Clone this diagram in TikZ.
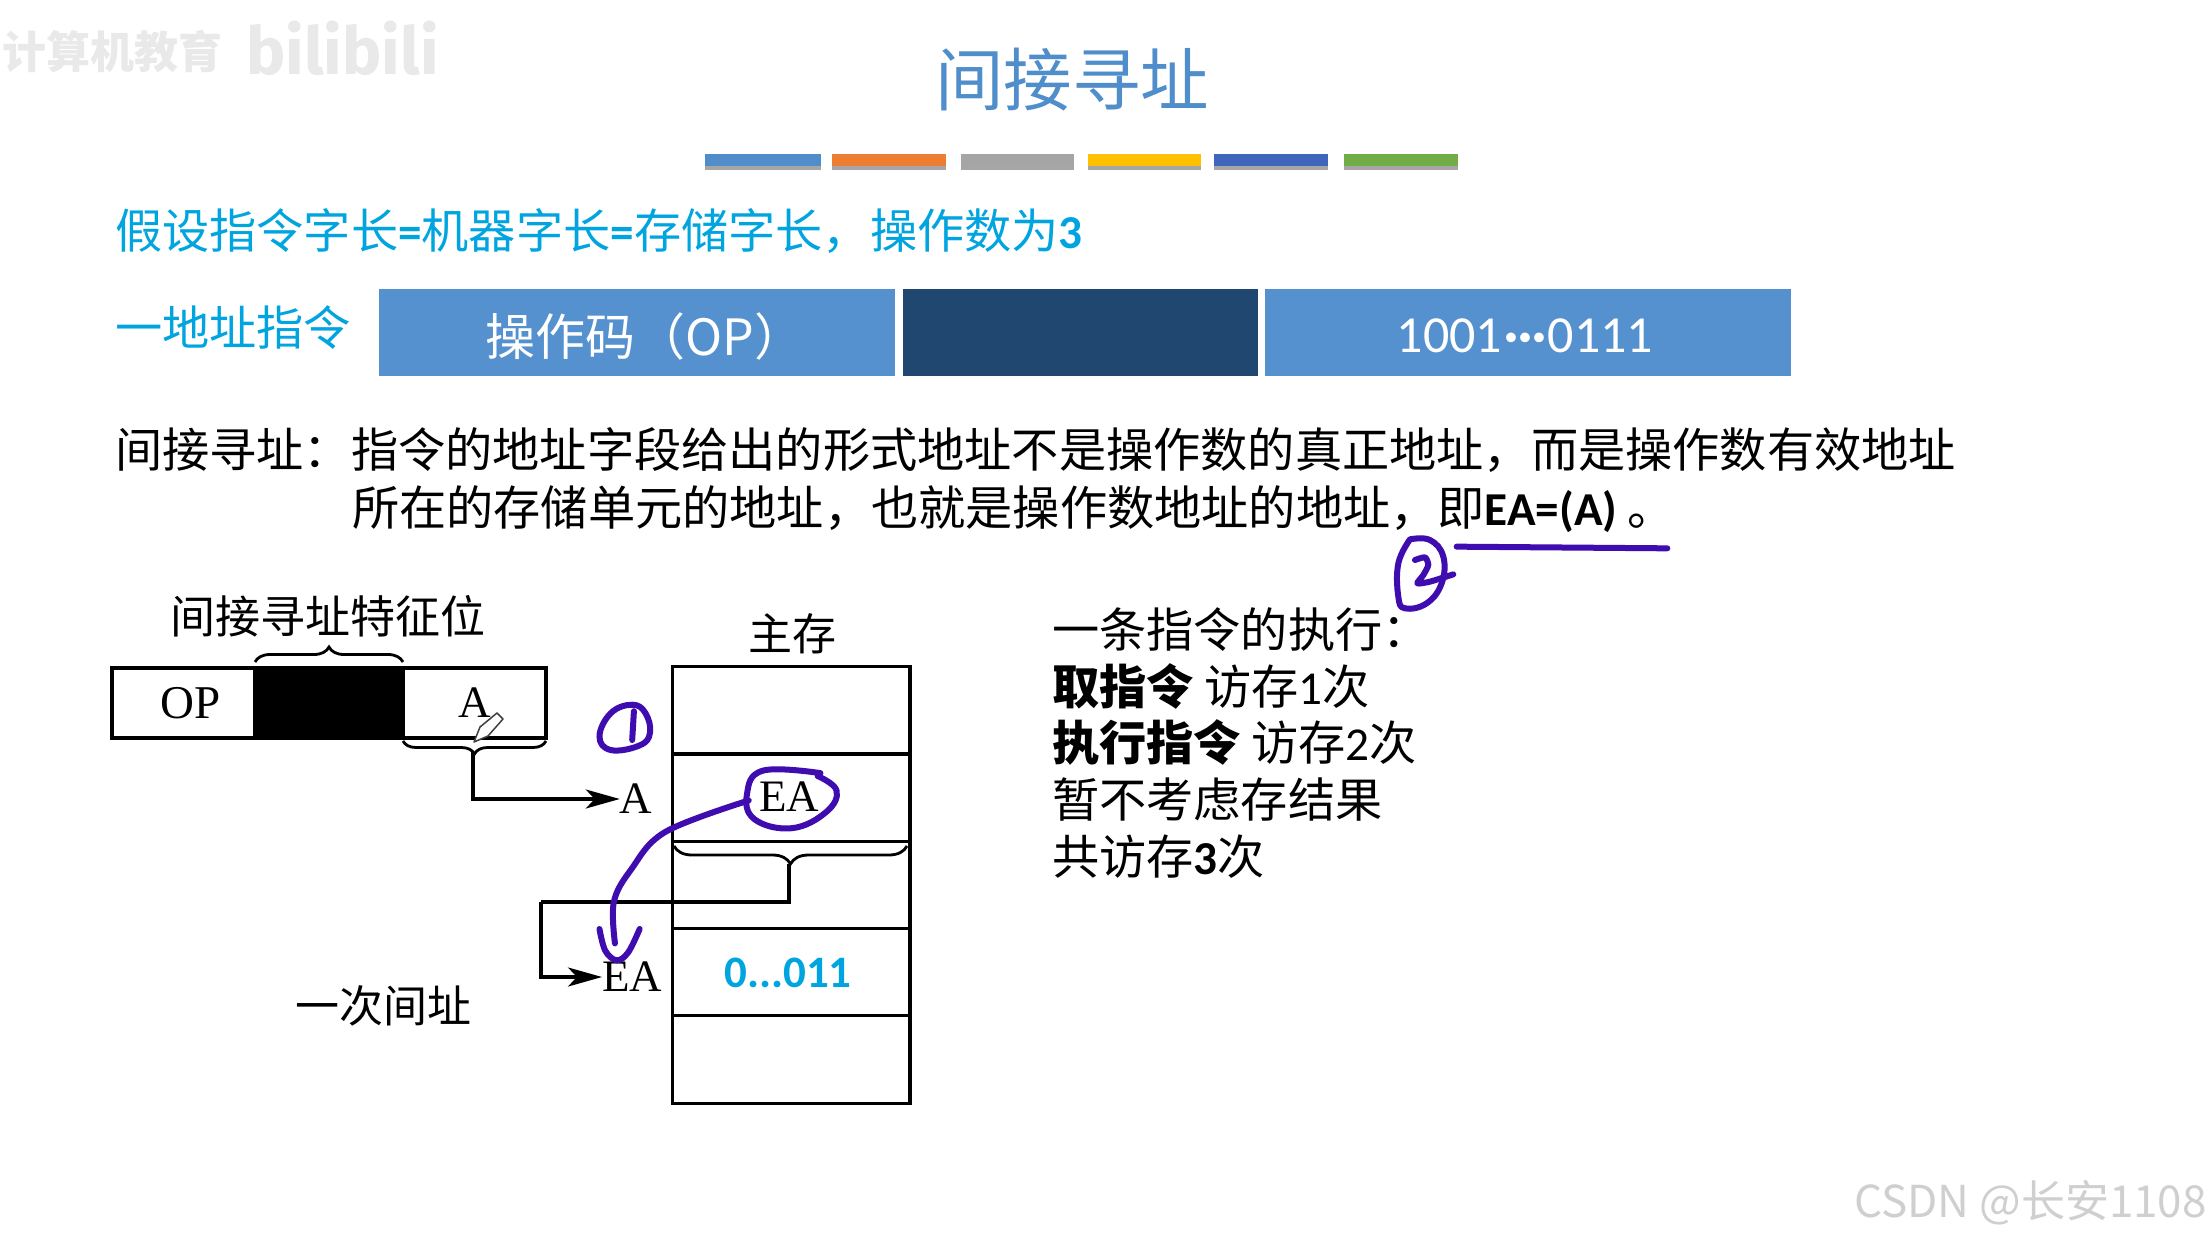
\documentclass[tikz,border=0pt]{standalone}
\usepackage{fontspec}
\setmainfont{Liberation Serif}
\newfontfamily\cjk{Noto Sans CJK SC}
\newfontfamily\lat{Carlito}
\newfontfamily\ser{Liberation Serif}
\newfontfamily\wmk{Fira Sans}
\newcommand\fsz[1]{\fontsize{#1}{#1}\selectfont}
\usetikzlibrary{arrows.meta,decorations.pathreplacing,positioning}
\definecolor{titleblue}{HTML}{4F8DCB}
\definecolor{sky}{HTML}{00A5DF}
\definecolor{opblue}{HTML}{5591CF}
\definecolor{navy}{HTML}{1F4770}
\definecolor{ink}{HTML}{3F0CB0}
\definecolor{wm}{HTML}{E9E9E9}
\definecolor{csdn}{HTML}{CFCFCF}
\tikzset{
  txt/.style={anchor=base west,inner sep=0pt,outer sep=0pt,font=\cjk\fsz{47.2}},
  sky text/.style={txt,text=sky},
  bar/.style={draw=none,minimum height=12pt,inner sep=0pt,outer sep=0pt,anchor=north west},
  field/.style={draw=none,anchor=north west,minimum height=87pt,inner sep=0pt,outer sep=0pt},
  field text/.style={inner sep=0pt,outer sep=0pt,text=white},
  cell/.style={draw=black,line width=3.2pt,anchor=north west,minimum width=237.5pt,minimum height=87.4pt,inner sep=0pt,outer sep=0pt},
  fmt/.style={draw=black,line width=3.2pt,anchor=north west,minimum height=70pt,inner sep=0pt,outer sep=0pt},
  serif label/.style={inner sep=0pt,outer sep=0pt,font=\ser\fsz{45}},
  cjk label/.style={inner sep=0pt,outer sep=0pt,font=\cjk\fsz{44}},
  link/.style={draw=black,line width=3.2pt},
  flow/.style={link,-{Stealth[length=34pt,width=19pt,inset=9pt]}},
  cbrace/.style={draw=black,line width=2.8pt,decorate,decoration={brace,amplitude=#1}},
  cbrace/.default=15pt,
  pen/.style={draw=ink,line width=6pt,line cap=round,line join=round},
}
\begin{document}
\begin{tikzpicture}[x=1pt,y=-1pt]
\useasboundingbox (0,0) rectangle (2209,1237);
\fill[white] (0,0) rectangle (2209,1237);

% faint watermarks
\node[inner sep=0pt,anchor=west,text=wm,font=\cjk\bfseries\fsz{44}] (wmA) at (2,52) {计算机教育};
\node[inner sep=0pt,anchor=west,text=wm,font=\wmk\bfseries\fsz{66}] (wmB) at (246,48) {bilibili};
\node[inner sep=0pt,anchor=east,text=csdn,font=\cjk\fsz{44}] (wmC) at (2207,1203) {CSDN @长安1108};

% title
\node[inner sep=0pt,text=titleblue,font=\cjk\fsz{68.5}] (title) at (1072,80) {间接寻址};

% coloured bars
\foreach \n/\xa/\w/\c in {a/705/116/4F8DCB,b/832/114/ED7D31,c/961/113/A5A5A5,d/1088/113/FFC000,e/1214/114/4066BC,f/1344/114/70AD47}{
  \fill[black!35] (\xa,158) rectangle ++(\w,12);
  \definecolor{barc}{HTML}{\c}
  \node[bar,fill=barc,minimum width=\w pt] (bar\n) at (\xa,154) {};
}

% assumption lines
\node[sky text] (assume) at (115,248) {假设指令字长{\lat\bfseries =}机器字长{\lat\bfseries =}存储字长，操作数为{\lat\bfseries 3}};
\node[sky text] (kind) at (115,345) {一地址指令};

% instruction fields
\node[field,fill=opblue,minimum width=516pt] (fop) at (379,289) {};
\node[field,fill=navy,minimum width=355pt] (fmode) at (903,289) {};
\node[field,fill=opblue,minimum width=526pt] (faddr) at (1265,289) {};
\node[field text,font=\cjk\fsz{50}] (foptext) at (645,336) {操作码（OP）};
\node[field text,font=\lat\fsz{52}] (faddrtext) at (1525,336) {1001{\bfseries\kern2pt ···\kern2pt}0111};

% definition
\node[txt] (def1) at (115,467) {间接寻址：指令的地址字段给出的形式地址不是操作数的真正地址，而是操作数有效地址};
\node[txt] (def2) at (352,525) {所在的存储单元的地址，也就是操作数地址的地址，即{\lat\bfseries EA=(A)} 。};

% execution notes
\node[txt] (n1) at (1052,647) {一条指令的执行：};
\node[txt] (n2) at (1052,704) {{\bfseries 取指令} 访存{\lat 1}次};
\node[txt] (n3) at (1052,760) {{\bfseries 执行指令} 访存{\lat 2}次};
\node[txt] (n4) at (1052,817) {暂不考虑存结果};
\node[txt] (n5) at (1052,874) {共访存{\lat\bfseries 3}次};

% instruction format
\node[cjk label,font=\cjk\fsz{45}] (flag) at (328,616) {间接寻址特征位};
\node[fmt,minimum width=143pt,font=\ser\fsz{47}] (op) at (112,668) {\hspace{14pt}OP};
\node[fmt,fill=black,minimum width=148pt] (ind) at (255,668) {};
\node[fmt,minimum width=143pt,font=\ser\fsz{45}] (adr) at (403,668) {A};
\draw[cbrace=15pt] (ind.north west) ++(0,-6) -- ++(148,0);
\draw[cbrace=13pt] (adr.south east) ++(0,3) -- ++(-143,0);
\coordinate (tipA) at (473,752);

% memory
\node[cjk label] (mem) at (792,634) {主存};
\node[cell] (m1) at (672.5,666.5) {};
\node[cell] (m2) at (672.5,753.8) {};
\node[cell] (m3) at (672.5,841.1) {};
\node[cell] (m4) at (672.5,928.4) {};
\node[cell] (m5) at (672.5,1015.7) {};
\node[serif label] (ea) at (789,797) {EA};
\node[inner sep=0pt,text=sky,font=\lat\bfseries\fsz{45}] (val) at (788,973) {0...011};
\draw[cbrace=18pt] (907,846) -- (674,846);
\coordinate (tipM) at (789,864);
\coordinate (turnA) at (541,902);

% address labels and connectors
\node[serif label] (labA) at (636,799) {A};
\node[serif label] (labEA) at (632,977) {EA};
\node[cjk label] (once) at (383,1006) {一次间址};
\draw[flow] (tipA) |- (labA.west);
\draw[link] (tipM) |- (turnA);
\draw[flow] (turnA) |- (labEA.west);

% cursor
\draw[fill=white,draw=black!75,line width=1.5pt,line join=round] (474,742) -- (480,727) -- (497,713) -- (503,719) -- (488,736) -- cycle;

% handwriting
\begin{scope}[shift={(80,560)},x=0.574pt,y=-0.36pt]
  \draw[pen] plot[smooth cycle,tension=.7] coordinates {(962,402) (925,425) (905,490) (925,528) (975,515) (993,480) (985,425)};
  \draw[pen] (965,420) -- (962,500);
  \draw[pen] plot[smooth,tension=.7] coordinates {(1290,592) (1190,585) (1162,650) (1175,720) (1240,745) (1300,700) (1318,640) (1285,600)};
  \draw[pen] plot[smooth,tension=.6] coordinates {(1165,668) (1020,755) (960,860) (930,950) (932,1065)};
  \draw[pen] plot[smooth,tension=.6] coordinates {(905,1025) (915,1085) (935,1112) (955,1090) (975,1025)};
\end{scope}
\begin{scope}[shift={(1250,480)},x=0.3333pt,y=-0.3333pt]
  \draw[pen] plot[smooth,tension=.7] coordinates {(480,178) (540,180) (580,230) (575,310) (530,370) (465,385) (445,350) (445,250) (480,178)};
  \draw[pen] plot[smooth,tension=.4] coordinates {(495,240) (525,232) (535,255) (520,285) (502,310) (540,305) (610,283)};
  \draw[pen] (620,200) -- (1252,205);
\end{scope}
\end{tikzpicture}
\end{document}
